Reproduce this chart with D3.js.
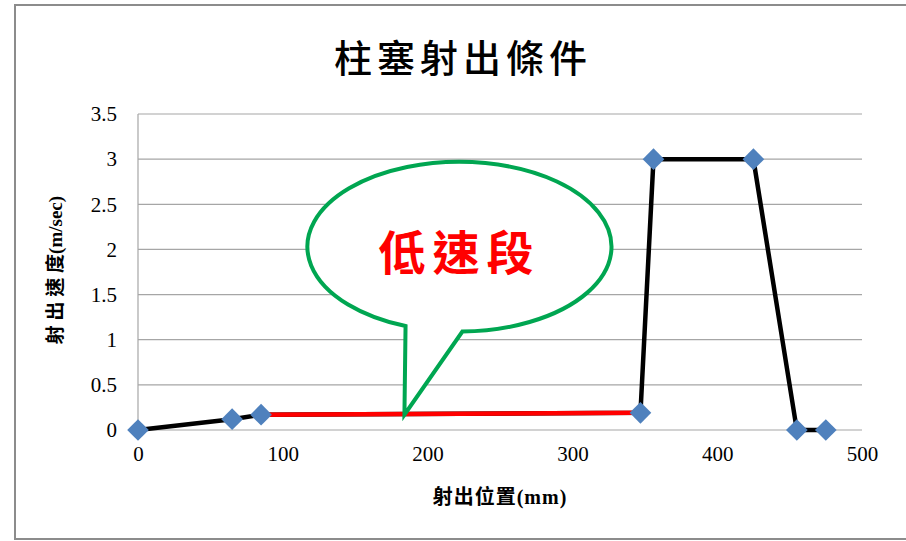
<!DOCTYPE html>
<html lang="zh-Hant">
<head>
<meta charset="UTF-8">
<title>柱塞射出條件</title>
<script src="https://d3js.org/d3.v7.min.js"></script>
<style>
    body { margin: 0; background: #ffffff; }
    svg { display: block; }
    .grid line { stroke: #a6a6a6; stroke-width: 1.2; }
</style>
</head>
<body>
<div id="chart"></div>
<script>
    // data
    const positions = [0, 65, 85, 347, 356, 425, 455, 475];        // 射出位置 (mm)
    const speeds    = [0, 0.12, 0.17, 0.19, 3, 3, 0, 0];            // 射出速度 (m/sec)
    const lowSpeedFrom = 2, lowSpeedTo = 3;                          // red segment index range
    const xTicks = [0, 100, 200, 300, 400, 500];
    const yTicks = [0, 0.5, 1, 1.5, 2, 2.5, 3, 3.5];

    // callout (in data units)
    const calloutCenter = [222, 2.03];
    const calloutRadius = [105, 0.94];
    const calloutTailLeft = [186, 1.18];
    const calloutTailRight = [224, 1.10];
    const calloutTip = [184, 0.17];
    const calloutText = "低速段";

    const serif = "'Liberation Serif', 'DejaVu Serif', 'Times New Roman', 'Noto Sans CJK TC', serif";
    const cjk = "'Noto Sans CJK TC', 'Noto Sans CJK SC', sans-serif";

    const W = 906, H = 541;
    const margin = { top: 114, left: 138, right: 44, bottom: 111 };
    const width = W - margin.left - margin.right;
    const height = H - margin.top - margin.bottom;

    const svg = d3.select("#chart").append("svg")
        .attr("width", W)
        .attr("height", H);

    // outer chart border
    svg.append("rect")
        .attr("x", 15).attr("y", 5)
        .attr("width", W + 20).attr("height", 534)
        .attr("fill", "none")
        .attr("stroke", "#8c8c8c")
        .attr("stroke-width", 2);

    svg.append("text")
        .attr("x", 463).attr("y", 72)
        .attr("text-anchor", "middle")
        .style("font-family", cjk)
        .style("font-weight", "500")
        .style("font-size", "38px")
        .style("letter-spacing", "5px")
        .text("柱塞射出條件");

    const g = svg.append("g")
        .attr("transform", `translate(${margin.left},${margin.top})`);

    const x = d3.scaleLinear().domain([0, 500]).range([0, width]);
    const y = d3.scaleLinear().domain([0, 3.5]).range([height, 0]);

    // gridlines
    g.append("g").attr("class", "grid")
        .selectAll("line")
        .data(yTicks)
        .join("line")
        .attr("x1", 0).attr("x2", width)
        .attr("y1", d => y(d)).attr("y2", d => y(d));

    g.append("line")
        .attr("x1", 0).attr("x2", 0)
        .attr("y1", 0).attr("y2", height)
        .attr("stroke", "#a6a6a6").attr("stroke-width", 1.2);

    // axes (labels only)
    const yAxis = g.append("g")
        .call(d3.axisLeft(y).tickValues(yTicks).tickSize(0).tickPadding(21).tickFormat(d3.format("~g")));
    yAxis.select(".domain").remove();

    const xAxis = g.append("g")
        .attr("transform", `translate(0,${height})`)
        .call(d3.axisBottom(x).tickValues(xTicks).tickSize(0).tickPadding(16));
    xAxis.select(".domain").remove();

    g.selectAll(".tick text")
        .attr("font-family", null)
        .style("font-family", serif)
        .style("font-size", "21px")
        .style("fill", "#000");

    g.append("text")
        .attr("transform", `translate(-76,${height / 2 - 2}) rotate(-90)`)
        .attr("text-anchor", "middle")
        .style("font-family", serif)
        .style("font-weight", "bold")
        .style("font-size", "19px")
        .text("射 出 速 度(m/sec)");

    g.append("text")
        .attr("x", x(250)).attr("y", height + 74)
        .attr("text-anchor", "middle")
        .style("font-family", serif)
        .style("font-weight", "bold")
        .style("font-size", "20px")
        .style("letter-spacing", "1px")
        .text("射出位置(mm)");

    // series
    const points = positions.map((p, i) => ({ x: p, y: speeds[i], i }));
    const line = d3.line().x(d => x(d.x)).y(d => y(d.y));

    g.append("path")
        .datum(points)
        .attr("d", line)
        .attr("fill", "none")
        .attr("stroke", "#000")
        .attr("stroke-width", 4.5)
        .attr("stroke-linejoin", "round");

    g.append("path")
        .datum(points.slice(lowSpeedFrom, lowSpeedTo + 1))
        .attr("d", line)
        .attr("fill", "none")
        .attr("stroke", "#ff0000")
        .attr("stroke-width", 4.5);

    g.selectAll(".marker")
        .data(points)
        .join("path")
        .attr("class", "marker")
        .attr("d", d3.symbol(d3.symbolSquare, 235))
        .attr("transform", d => `translate(${x(d.x)},${y(d.y)}) rotate(45)`)
        .attr("fill", "#4f81bd");

    // callout bubble
    const cx = x(calloutCenter[0]), cy = y(calloutCenter[1]);
    const rx = x(calloutRadius[0]) - x(0), ry = y(0) - y(calloutRadius[1]);
    const onEllipse = p => {
        const t = Math.atan2((y(p[1]) - cy) / ry, (x(p[0]) - cx) / rx);
        return [cx + rx * Math.cos(t), cy + ry * Math.sin(t)];
    };
    const bl = onEllipse(calloutTailLeft), br = onEllipse(calloutTailRight);
    const tip = [x(calloutTip[0]), y(calloutTip[1])];

    g.append("path")
        .attr("d", `M${tip}L${bl}A${rx},${ry} 0 1 1 ${br}Z`)
        .attr("fill", "#ffffff")
        .attr("stroke", "#00a651")
        .attr("stroke-width", 4)
        .attr("stroke-linejoin", "miter");

    g.append("text")
        .attr("x", cx).attr("y", cy + 23)
        .attr("text-anchor", "middle")
        .attr("fill", "#ff0000")
        .style("font-family", cjk)
        .style("font-weight", "bold")
        .style("font-size", "47px")
        .style("letter-spacing", "7px")
        .text(calloutText);
</script>
</body>
</html>
